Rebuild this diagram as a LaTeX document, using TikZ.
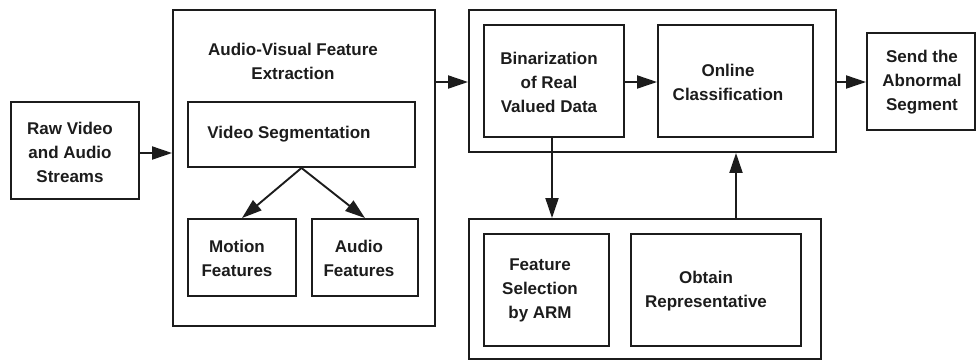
\documentclass[tikz,border=0pt]{standalone}
\usepackage{fontspec}
\setmainfont{Liberation Sans}
\usetikzlibrary{arrows.meta}
\definecolor{ink}{RGB}{28,28,28}
\begin{document}
\begin{tikzpicture}[x=1pt,y=-1pt,
  box/.style={draw=ink, line width=1.9pt, inner sep=0pt},
  txt/.style={text=ink, align=center, inner sep=0pt, font=\fontsize{17}{24}\selectfont\bfseries},
  flow/.style={draw=ink, line width=1.9pt, -{Triangle[length=20pt,width=13pt]}}]
\useasboundingbox (0,0) rectangle (976,360);

% input
\node[box, minimum width=128pt, minimum height=97pt] (raw) at (75,150.5) {};
\node[txt] (rawt) at (70,152) {Raw Video\\and Audio\\Streams};

% feature extraction stage
\node[box, minimum width=262pt, minimum height=316pt] (ext) at (304,168) {};
\node[txt] (extt) at (293,61.5) {Audio-Visual Feature\\Extraction};
\node[box, minimum width=227pt, minimum height=65pt] (seg) at (301.5,134.5) {};
\node[txt] (segt) at (289,134) {Video Segmentation};
\node[box, minimum width=108pt, minimum height=77pt] (mot) at (242,257.5) {};
\node[txt] (mott) at (237,258) {Motion\\Features};
\node[box, minimum width=106pt, minimum height=77pt] (aud) at (365,257.5) {};
\node[txt] (audt) at (359,258) {Audio\\Features};

% classification stage
\node[box, minimum width=367pt, minimum height=142pt] (cls) at (652.5,81) {};
\node[box, minimum width=140pt, minimum height=112pt] (bin) at (554,81) {};
\node[txt] (bint) at (549,82) {Binarization\\of Real\\Valued Data};
\node[box, minimum width=155pt, minimum height=112pt] (onl) at (735.5,81) {};
\node[txt] (onlt) at (728,82) {Online\\Classification};

% output
\node[box, minimum width=108pt, minimum height=97pt] (send) at (921,81.5) {};
\node[txt] (sendt) at (922,82) {Send the\\Abnormal\\Segment};

% rule mining stage
\node[box, minimum width=352pt, minimum height=140pt] (arm) at (645,289) {};
\node[box, minimum width=125pt, minimum height=112pt] (fsel) at (546.5,290) {};
\node[txt] (fselt) at (540,290) {Feature\\Selection\\by ARM};
\node[box, minimum width=170pt, minimum height=112pt] (obt) at (716,290) {};
\node[txt] (obtt) at (706,291) {Obtain\\Representative};

% connectors
\draw[flow] (raw.east |- 0,153) -- (ext.west |- 0,153);
\draw[flow] (seg.south) -- (mot.north);
\draw[flow] (seg.south) -- (aud.north);
\draw[flow] (ext.east |- 0,82) -- (cls.west |- 0,82);
\draw[flow] (bin.east |- 0,82) -- (onl.west |- 0,82);
\draw[flow] (cls.east |- 0,82) -- (send.west |- 0,82);
\draw[flow] (bin.south -| 552,0) -- (arm.north -| 552,0);
\draw[flow] (arm.north -| 736,0) -- (cls.south -| 736,0);
\end{tikzpicture}
\end{document}
